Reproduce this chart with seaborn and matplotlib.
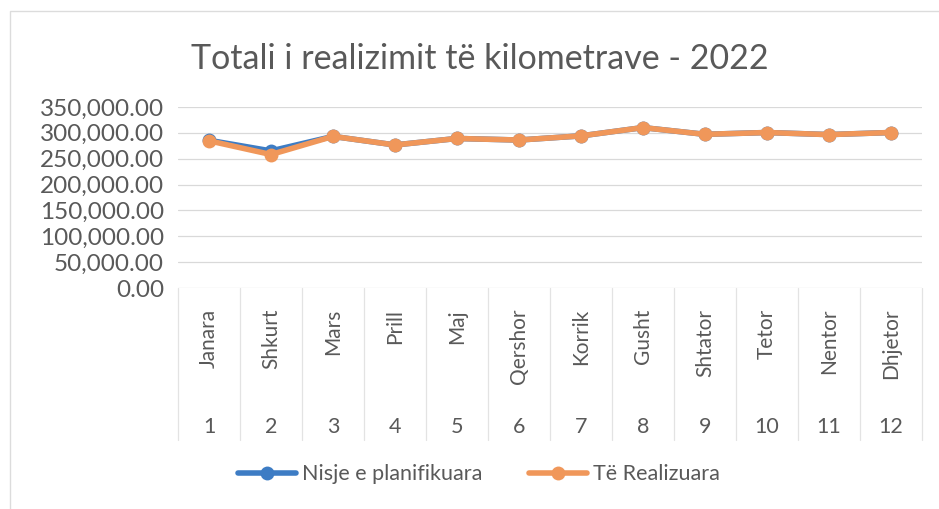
import numpy as np
import pandas as pd
import matplotlib
matplotlib.use('Agg')
import matplotlib.pyplot as plt
import matplotlib.transforms as mtransforms
from matplotlib.patches import Rectangle
from matplotlib.ticker import FuncFormatter
import seaborn as sns

# Data
months = ['Janara', 'Shkurt', 'Mars', 'Prill', 'Maj', 'Qershor',
          'Korrik', 'Gusht', 'Shtator', 'Tetor', 'Nentor', 'Dhjetor']
month_nums = ['1', '2', '3', '4', '5', '6', '7', '8', '9', '10', '11', '12']
planned = [285500, 265000, 293000, 276500, 289000, 286000,
           294000, 310000, 297000, 300500, 296500, 300500]
realized = [284500, 258000, 293000, 276500, 289000, 286000,
            294000, 310000, 297000, 300500, 296500, 300500]
series_names = ['Nisje e planifikuara', 'Të Realizuara']
colors = ['#3d7cc4', '#f0975a']

df = pd.DataFrame({
    'pos': list(range(len(months))) * 2,
    'value': planned + realized,
    'series': [series_names[0]] * len(months) + [series_names[1]] * len(months),
})

sns.set_theme(style='white')
plt.rcParams['font.family'] = ['Lato', 'DejaVu Sans']
text_color = '#595959'

fig = plt.figure(figsize=(9.39, 5.09), dpi=100)
ax = fig.add_axes([0.1896, 0.434, 0.792, 0.356])

sns.lineplot(data=df, x='pos', y='value', hue='series', palette=colors,
             marker='o', markersize=10, markeredgewidth=0, linewidth=4,
             ax=ax, legend=False)

ax.set_xlim(-0.5, len(months) - 0.5)
ax.set_ylim(0, 350000)
ax.set_yticks(np.arange(0, 350001, 50000))
ax.yaxis.set_major_formatter(FuncFormatter(lambda v, p: f'{v:,.2f}'))
ax.tick_params(axis='y', labelsize=17.5, colors=text_color, length=0, pad=10)
ax.grid(axis='y', color='#d9d9d9', linewidth=0.9)
ax.set_xlabel('')
ax.set_ylabel('')
for s in ax.spines.values():
    s.set_visible(False)

# two-level category axis
ax.set_xticks(range(len(months)))
ax.set_xticklabels(months, rotation=90, fontsize=15, color=text_color, va='top')
ax.tick_params(axis='x', length=0, pad=15)
trans = mtransforms.blended_transform_factory(ax.transData, ax.transAxes)
for i, n in enumerate(month_nums):
    ax.text(i, -0.765, n, transform=trans, ha='center', va='center',
            fontsize=15.5, color=text_color)
for b in np.arange(-0.5, len(months), 1.0):
    ax.plot([b, b], [0, -0.84], transform=trans, color='#e3e3e3',
            linewidth=0.9, clip_on=False)

fig.text(0.511, 0.885, 'Totali i realizimit të kilometrave - 2022',
         ha='center', va='center', fontsize=24.5, color=text_color)

handles = [plt.Line2D([], [], color=c, marker='o', markersize=10,
                      markeredgewidth=0, linewidth=4) for c in colors]
fig.legend(handles, series_names, loc='center', bbox_to_anchor=(0.51, 0.068),
           ncol=2, frameon=False, fontsize=15.5, labelcolor=text_color,
           handlelength=2.7, columnspacing=2.2, handletextpad=0.25)

fig.patches.append(Rectangle((0.011, -0.02), 0.995, 0.999, transform=fig.transFigure,
                             fill=False, edgecolor='#dcdcdc', linewidth=1))

fig.savefig('out.png', dpi=100, facecolor='white')
